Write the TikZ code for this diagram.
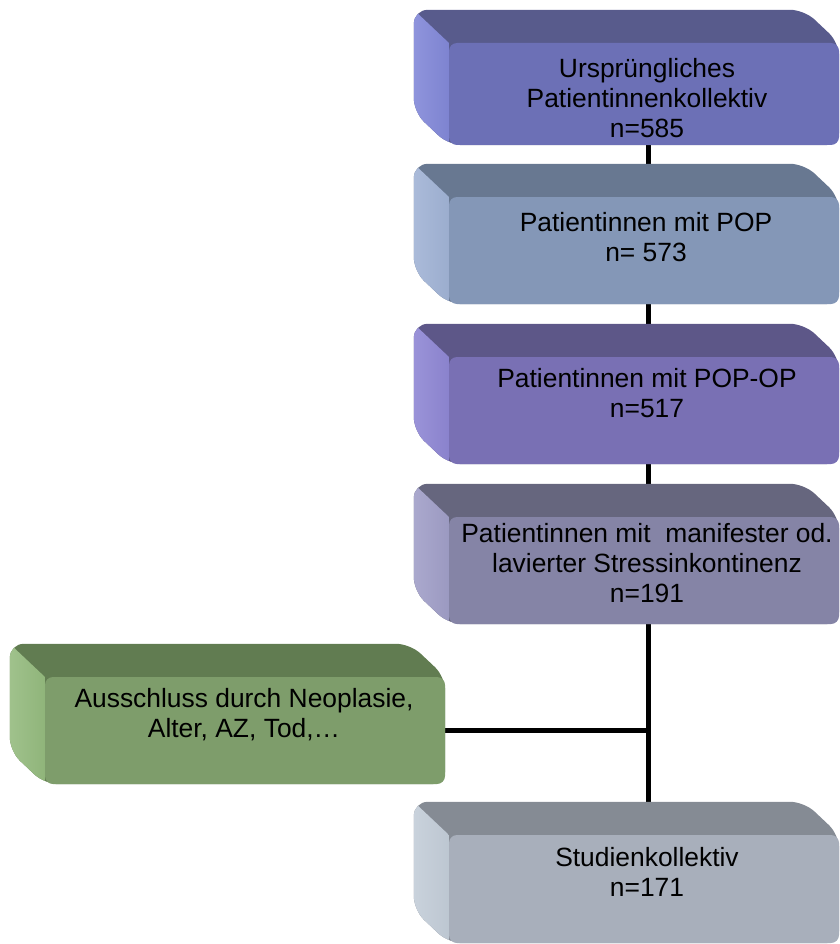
\documentclass[tikz,border=0pt]{standalone}
\usepackage{fontspec}
\setmainfont{Liberation Sans}
\usetikzlibrary{calc}
\pgfdeclarelayer{bg}
\pgfdeclarelayer{mid}
\pgfsetlayers{bg,mid,main}

\definecolor{aF}{HTML}{6C70B6}\definecolor{aT}{HTML}{585B8C}\definecolor{aL}{HTML}{8288D8}
\definecolor{bF}{HTML}{8497B7}\definecolor{bT}{HTML}{687891}\definecolor{bL}{HTML}{A1B3D5}
\definecolor{cF}{HTML}{7970B4}\definecolor{cT}{HTML}{5D5788}\definecolor{cL}{HTML}{8F87D4}
\definecolor{dF}{HTML}{8584A6}\definecolor{dT}{HTML}{66667E}\definecolor{dL}{HTML}{A19FC8}
\definecolor{eF}{HTML}{7E9D6B}\definecolor{eT}{HTML}{617C51}\definecolor{eL}{HTML}{95BB7F}
\definecolor{gF}{HTML}{A8AFBB}\definecolor{gT}{HTML}{858B94}\definecolor{gL}{HTML}{C3CDD8}

\tikzset{
  face/.style={rectangle, rounded corners=8pt, inner sep=0pt, fill=#1},
  txt/.style={anchor=north, inner sep=0pt, align=center, text=black,
    font=\fontsize{26.4}{30}\selectfont},
  conn/.style={line width=5pt, draw=black},
}

\newcommand\bevelbox[3]{%
  \coordinate (#1-btl) at ($(#1.north west)+(-35,-33)$);
  \coordinate (#1-btr) at ($(#1.north east)+(-35,-33)$);
  \coordinate (#1-bbl) at ($(#1.south west)+(-35,-33)$);
  \begin{pgfonlayer}{mid}
    \fill[#2, rounded corners=14pt] (#1.south west) -- (#1-bbl) -- (#1-btl) -- (#1-btr)
      -- (#1.north east) -- (#1.south east) -- cycle;
    \begin{scope}
      \clip[rounded corners=14pt] (#1.south west) -- (#1-bbl) -- (#1-btl) -- (#1-btr)
        -- (#1.north east) -- (#1.south east) -- cycle;
      \shade[left color=#3!90!white, right color=#3!90!#2] (#1-bbl) -- (#1-btl)
        -- (#1.north west) -- (#1.south west) -- cycle;
    \end{scope}
  \end{pgfonlayer}%
}

\begin{document}
\begin{tikzpicture}[x=1pt, y=-1pt]
\useasboundingbox (0,0) rectangle (839,944);

% front faces
\node[face=aF, minimum width=390pt, minimum height=102pt] (f1) at (644,94) {};
\node[face=bF, minimum width=390pt, minimum height=107pt] (f2) at (644,250.5) {};
\node[face=cF, minimum width=390pt, minimum height=107pt] (f3) at (644,410.5) {};
\node[face=dF, minimum width=390pt, minimum height=107pt] (f4) at (644,570.5) {};
\node[face=eF, minimum width=400pt, minimum height=107pt] (f5) at (245,730.5) {};
\node[face=gF, minimum width=390pt, minimum height=108pt] (f6) at (644,889) {};

\bevelbox{f1}{aT}{aL}
\bevelbox{f2}{bT}{bL}
\bevelbox{f3}{cT}{cL}
\bevelbox{f4}{dT}{dL}
\bevelbox{f5}{eT}{eL}
\bevelbox{f6}{gT}{gL}

% texts
\node[txt] (t1) at (647,58) {Ursprüngliches\\Patientinnenkollektiv\\n=585};
\node[txt] (t2) at (646,212) {Patientinnen mit POP\\n= 573};
\node[txt] (t3) at (647,368) {Patientinnen mit POP-OP\\n=517};
\node[txt] (t4) at (647,523) {Patientinnen mit\ \ manifester od.\\lavierter Stressinkontinenz\\n=191};
\node[txt] (t5) at (244,688) {Ausschluss durch Neoplasie,\\Alter, AZ, Tod,…};
\node[txt] (t6) at (647,847) {Studienkollektiv\\n=171};

% connectors
\coordinate (spine) at (648,0);
\begin{pgfonlayer}{bg}
  \draw[conn] (f1.south -| spine) -- (f6.north -| spine);
  \draw[conn] (f5.east) -- (f5.east -| spine);
\end{pgfonlayer}
\end{tikzpicture}
\end{document}
